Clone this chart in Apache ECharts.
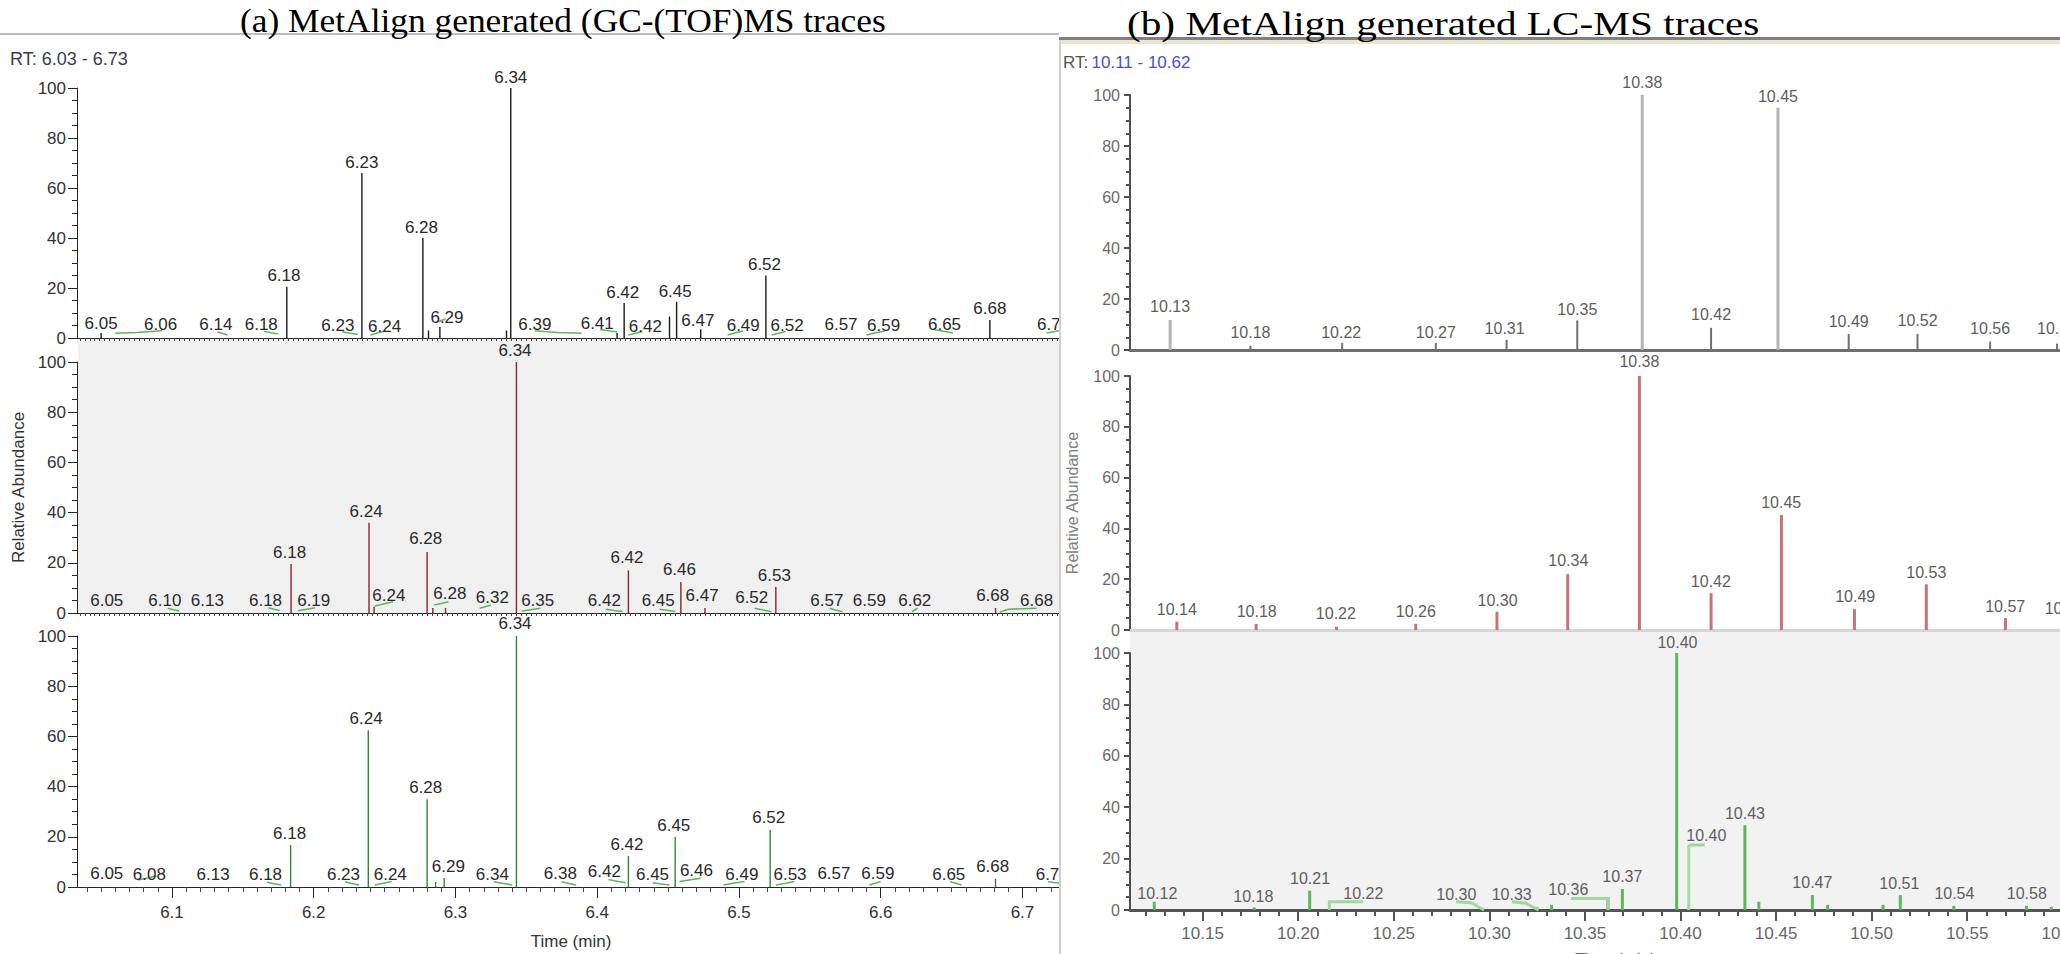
<!DOCTYPE html>
<html><head><meta charset="utf-8">
<script src="https://cdn.jsdelivr.net/npm/echarts@6/dist/echarts.min.js"></script>
<style>
html,body{margin:0;padding:0;background:#fff;width:2060px;height:954px;overflow:hidden;}
#lw{position:absolute;left:0;top:0;width:1059px;height:954px;overflow:hidden;}
#rw{position:absolute;left:1059px;top:0;width:1001px;height:954px;overflow:hidden;}
#lc{width:1100px;height:954px;}
#rc{width:1100px;height:954px;}
</style></head><body>
<div id="lw"><div id="lc"></div></div>
<div id="rw"><div id="rc"></div></div>
<script>
// ================= (a) GC-(TOF)MS traces, RT 6.03 - 6.73 =================
const gcTitle = '(a) MetAlign generated (GC-(TOF)MS traces';
const gcRange = 'RT: 6.03 - 6.73';
const gcTimeTicks = [6.1, 6.2, 6.3, 6.4, 6.5, 6.6, 6.7];
const abundanceTicks = [0, 20, 40, 60, 80, 100];

// [retention time, relative abundance]
const gcTopPeaks = [[6.050,2],[6.181,20.5],[6.234,66],[6.277,40],[6.281,3],[6.289,4.4],[6.336,3],[6.339,100],[6.414,2],[6.419,14],[6.451,8.6],[6.456,14.5],[6.473,3.5],[6.519,25],[6.677,7.2]];
const gcMidPeaks = [[6.184,19.5],[6.239,36],[6.2426,2.5],[6.280,24.3],[6.284,2],[6.293,2],[6.343,100],[6.422,17],[6.459,12.4],[6.476,2],[6.526,10.4],[6.681,2]];
const gcBotPeaks = [[6.1837,16.7],[6.2385,62.5],[6.280,35],[6.286,2],[6.292,3.6],[6.343,100],[6.422,12.4],[6.455,19.9],[6.522,22.7],[6.681,3.2]];

// [label x (time), label height, text]
const gcTopLabels = [[6.050,6,'6.05'],[6.092,5.6,'6.06'],[6.131,5.4,'6.14'],[6.163,5.4,'6.18'],[6.179,25,'6.18'],[6.217,5.2,'6.23'],[6.234,70.4,'6.23'],[6.250,4.8,'6.24'],[6.276,44.4,'6.28'],[6.294,8.4,'6.29'],[6.339,104.4,'6.34'],[6.356,5.6,'6.39'],[6.400,6,'6.41'],[6.418,18.4,'6.42'],[6.434,4.8,'6.42'],[6.455,18.8,'6.45'],[6.471,7.2,'6.47'],[6.503,5.2,'6.49'],[6.518,29.6,'6.52'],[6.534,5.2,'6.52'],[6.572,5.6,'6.57'],[6.602,5.2,'6.59'],[6.645,5.6,'6.65'],[6.677,12,'6.68'],[6.722,5.4,'6.72']];
const gcMidLabels = [[6.054,4.8,'6.05'],[6.095,4.8,'6.10'],[6.125,4.8,'6.13'],[6.166,4.8,'6.18'],[6.183,24,'6.18'],[6.200,4.8,'6.19'],[6.237,40.6,'6.24'],[6.253,7,'6.24'],[6.279,29.5,'6.28'],[6.296,7.6,'6.28'],[6.326,6,'6.32'],[6.342,104.4,'6.34'],[6.358,4.8,'6.35'],[6.405,4.8,'6.42'],[6.421,22,'6.42'],[6.443,4.8,'6.45'],[6.458,17.5,'6.46'],[6.474,7,'6.47'],[6.509,6,'6.52'],[6.525,15,'6.53'],[6.562,5,'6.57'],[6.592,5,'6.59'],[6.624,5,'6.62'],[6.679,7,'6.68'],[6.710,5,'6.68']];
const gcBotLabels = [[6.054,5.2,'6.05'],[6.084,4.8,'6.08'],[6.129,4.8,'6.13'],[6.166,4.8,'6.18'],[6.183,21.4,'6.18'],[6.221,4.8,'6.23'],[6.237,67,'6.24'],[6.254,4.8,'6.24'],[6.279,39.8,'6.28'],[6.295,8,'6.29'],[6.326,4.8,'6.34'],[6.342,104.8,'6.34'],[6.374,5.2,'6.38'],[6.405,6,'6.42'],[6.421,17,'6.42'],[6.439,4.8,'6.45'],[6.454,24.7,'6.45'],[6.470,6.4,'6.46'],[6.502,4.8,'6.49'],[6.521,27.5,'6.52'],[6.536,4.8,'6.53'],[6.567,5.2,'6.57'],[6.598,5.2,'6.59'],[6.648,4.8,'6.65'],[6.679,8,'6.68'],[6.721,4.8,'6.72']];

// integration baseline marks [t1,v1,t2,v2,t3,v3]
const gcTopMarks = [[6.060,1.9,6.075,2.2,6.093,2.9],[6.132,2.4,6.136,1.8,6.139,1.2],[6.165,2.7,6.170,2.1,6.175,1.6],[6.220,2.5,6.225,2.0,6.231,1.4],[6.240,1.2,6.245,2.0,6.251,2.9],[6.288,6.4,6.290,7.0,6.293,7.6],[6.356,2.9,6.372,2.2,6.389,1.9],[6.402,3.4,6.408,2.9,6.414,2.4],[6.422,1.2,6.427,1.9,6.432,2.6],[6.492,1.2,6.497,2.0,6.503,2.8],[6.523,1.2,6.528,1.9,6.533,2.6],[6.590,1.2,6.596,2.0,6.603,2.8],[6.638,3.3,6.645,2.6,6.651,2.0],[6.717,2.0,6.722,2.5,6.727,3.0]];
const gcMidMarks = [[6.097,1.9,6.101,1.3,6.105,0.8],[6.168,2.1,6.172,1.5,6.176,1.0],[6.189,0.9,6.195,1.5,6.201,2.1],[6.243,2.8,6.249,3.6,6.256,4.5],[6.285,3.2,6.290,3.8,6.295,4.5],[6.317,1.9,6.321,2.5,6.325,3.2],[6.347,0.8,6.353,1.3,6.360,1.9],[6.406,1.5,6.412,1.0,6.418,0.6],[6.444,1.5,6.450,1.0,6.455,0.6],[6.511,1.9,6.517,1.2,6.523,0.5],[6.564,1.9,6.568,1.2,6.573,0.5],[6.622,0.5,6.624,1.2,6.626,1.9],[6.684,0.4,6.690,1.5,6.710,1.9]];
const gcBotMarks = [[6.076,2.8,6.083,3.6,6.089,4.4],[6.167,1.9,6.172,1.3,6.177,0.8],[6.222,2.1,6.227,1.4,6.232,0.8],[6.243,0.8,6.249,1.5,6.255,2.2],[6.327,2.1,6.334,1.4,6.340,0.8],[6.375,2.1,6.380,1.4,6.385,0.8],[6.408,3.0,6.414,2.3,6.420,1.7],[6.439,1.7,6.445,1.2,6.451,0.8],[6.458,2.2,6.465,2.8,6.473,3.5],[6.489,0.8,6.496,1.5,6.504,2.2],[6.526,0.8,6.533,1.5,6.539,2.2],[6.592,0.8,6.596,1.5,6.600,2.2],[6.649,2.1,6.653,1.5,6.657,0.8],[6.718,2.1,6.722,1.8,6.727,1.5]];

// ================= (b) LC-MS traces, RT 10.11 - 10.62 =================
const lcTitle = '(b) MetAlign generated LC-MS traces';
const lcRangeLabel = 'RT:';
const lcRangeValue = '10.11 - 10.62';
const lcTimeTicks = [10.15, 10.20, 10.25, 10.30, 10.35, 10.40, 10.45, 10.50, 10.55, 10.60];

const lcTopMajorPeaks = [[10.133,11.8],[10.380,100],[10.451,95]];
const lcTopMinorPeaks = [[10.175,1.7],[10.223,2.8],[10.272,2.8],[10.309,4],[10.346,11.6],[10.416,8.7],[10.488,6.3],[10.524,6.3],[10.562,3.3],[10.597,2.5]];
const lcMidPeaks = [[10.1365,3.3],[10.178,2.4],[10.220,1.3],[10.2615,2.4],[10.304,7.2],[10.341,22],[10.3785,100],[10.416,14.5],[10.4528,45.3],[10.491,8.2],[10.5286,18],[10.570,4.7]];
const lcBotPeaks = [[10.1247,3.2],[10.177,1],[10.206,7.5],[10.325,1],[10.3325,2],[10.362,4.7],[10.3696,8.2],[10.398,100],[10.4337,33],[10.441,3.2],[10.469,5.8],[10.477,2],[10.506,2],[10.515,5.8],[10.543,1.6],[10.581,1.6],[10.594,1.2]];
const lcBotShoulder = [[10.4043,25.3]];

const lcTopLabels = [[10.380,104.8,'10.38'],[10.451,99.6,'10.45'],[10.133,17,'10.13'],[10.175,6.7,'10.18'],[10.2225,7,'10.22'],[10.272,7,'10.27'],[10.308,8.3,'10.31'],[10.346,15.9,'10.35'],[10.416,13.8,'10.42'],[10.488,11,'10.49'],[10.524,11.5,'10.52'],[10.562,8.3,'10.56'],[10.597,8.5,'10.60']];
const lcMidLabels = [[10.1365,7.9,'10.14'],[10.1783,7.2,'10.18'],[10.2197,6.6,'10.22'],[10.2615,7.2,'10.26'],[10.3043,11.5,'10.30'],[10.3413,27.2,'10.34'],[10.3785,105.6,'10.38'],[10.4159,18.9,'10.42'],[10.4527,50.1,'10.45'],[10.4914,13.1,'10.49'],[10.5286,22.7,'10.53'],[10.5699,9.2,'10.57'],[10.601,8.5,'10.61']];
const lcBotLabels = [[10.1263,6.5,'10.12'],[10.1765,5.2,'10.18'],[10.2062,12.2,'10.21'],[10.2341,6.5,'10.22'],[10.2827,6,'10.30'],[10.3117,6,'10.33'],[10.3413,7.8,'10.36'],[10.3696,13.2,'10.37'],[10.3984,104,'10.40'],[10.4135,28.8,'10.40'],[10.4337,37.6,'10.43'],[10.469,10.6,'10.47'],[10.5145,10.4,'10.51'],[10.5433,6.5,'10.54'],[10.5812,6.5,'10.58']];
const lcBotMarks = [[10.2163,0,10.2163,3.2,10.2339,3.2],[10.2827,3.2,10.2905,2.8,10.2972,0],[10.3117,3.2,10.3191,2.6,10.3258,0],[10.3427,4.5,10.3622,4.5,10.3622,0],[10.4043,25.3,10.4085,25.3,10.4128,25.3]];

// ---------------- axis scaffolding ----------------
const GC_MIN = 6.033, GC_MAX = 6.73;
const LC_MIN = 10.112, LC_MAX = 10.62;
const gcMinorTicks = [];
for (let k = 604; k <= 673; k++) if (k % 10) gcMinorTicks.push(k / 100);
const gcDenseTicks = [];
for (let k = 0; ; k++) { const t = 6.035 + k * 0.0035; if (t > GC_MAX) break; gcDenseTicks.push(+t.toFixed(4)); }
const lcMinorTicks = [];
for (let k = 1012; k <= 1062; k++) if (k % 5) lcMinorTicks.push(k / 100);

const FONT = '"Liberation Sans", Arial, sans-serif';
const SERIF = '"Liberation Serif", "Times New Roman", serif';

function stickSeries(data, xi, yi, color, width) {
  return {type: 'custom', xAxisIndex: xi, yAxisIndex: yi, data: data, clip: false, silent: true,
    renderItem: function (params, api) {
      const t = api.value(0), v = api.value(1);
      const a = api.coord([t, 0]), b = api.coord([t, v]);
      return {type: 'line', shape: {x1: a[0], y1: a[1], x2: b[0], y2: b[1]}, style: {stroke: color, lineWidth: width}};
    }};
}
function labelSeries(labels, xi, yi, size, color) {
  return {type: 'custom', xAxisIndex: xi, yAxisIndex: yi, clip: false, silent: true, z: 5,
    data: labels.map(function (l) { return [l[0], l[1]]; }),
    renderItem: function (params, api) {
      const p = api.coord([api.value(0), api.value(1)]);
      return {type: 'text', x: p[0], y: p[1],
        style: {text: labels[params.dataIndex][2], fontSize: size, fontFamily: FONT, fill: color, align: 'center', verticalAlign: 'middle'}};
    }};
}
function markSeries(marks, xi, yi, color, width) {
  return {type: 'custom', xAxisIndex: xi, yAxisIndex: yi, data: marks, clip: false, silent: true, z: 4,
    dimensions: ['x1', 'y1', 'x2', 'y2', 'x3', 'y3'], encode: {x: [0, 2, 4], y: [1, 3, 5]},
    renderItem: function (params, api) {
      const pts = [[api.value(0), api.value(1)], [api.value(2), api.value(3)], [api.value(4), api.value(5)]].map(function (q) { return api.coord(q); });
      return {type: 'polyline', shape: {points: pts}, style: {stroke: color, lineWidth: width, fill: null}};
    }};
}

// ---------------- left chart ----------------
const gcGrids = [{left: 77, width: 988, top: 88, height: 250}, {left: 77, width: 988, top: 362, height: 251}, {left: 77, width: 988, top: 636, height: 251}]
  .map(function (g) { return Object.assign({containLabel: false, outerBoundsMode: 'none'}, g); });
const gcX = [];
gcGrids.forEach(function (g, i) {
  const bottom = i === 2;
  gcX.push({type: 'value', gridIndex: i, position: 'bottom', min: GC_MIN, max: GC_MAX,
    axisLine: {show: true, onZero: false, lineStyle: {color: '#262626', width: 1}},
    axisTick: {show: bottom, customValues: gcTimeTicks, length: 11, lineStyle: {color: '#262626'}},
    axisLabel: {show: bottom, customValues: gcTimeTicks, fontSize: 17, color: '#333', fontFamily: FONT, margin: 17},
    splitLine: {show: false},
    name: bottom ? 'Time (min)' : '', nameLocation: 'middle', nameGap: 46,
    nameTextStyle: {fontSize: 17, color: '#333', fontFamily: FONT}});
  gcX.push({type: 'value', gridIndex: i, position: 'bottom', min: GC_MIN, max: GC_MAX,
    axisLine: {show: false, onZero: false},
    axisTick: {show: true, customValues: bottom ? gcMinorTicks : gcDenseTicks, length: bottom ? 5 : 3, lineStyle: {color: '#444'}},
    axisLabel: {show: false}, splitLine: {show: false}});
});
const gcY = gcGrids.map(function (g, i) {
  return {type: 'value', gridIndex: i, min: 0, max: 100, interval: 20,
    axisLine: {show: true, lineStyle: {color: '#262626', width: 1}},
    axisTick: {show: true, length: 9, lineStyle: {color: '#262626'}},
    minorTick: {show: true, splitNumber: 4, length: 5, lineStyle: {color: '#262626'}},
    axisLabel: {fontSize: 17, color: '#333', fontFamily: FONT, margin: 11},
    splitLine: {show: false}, minorSplitLine: {show: false},
    name: i === 1 ? 'Relative Abundance' : '', nameLocation: 'middle', nameGap: 44, nameRotate: 90,
    nameTextStyle: {fontSize: 17, color: '#333', fontFamily: FONT}};
});
const leftChart = echarts.init(document.getElementById('lc'), null, {renderer: 'svg'});
leftChart.setOption({
  animation: false,
  grid: gcGrids,
  xAxis: gcX,
  yAxis: gcY,
  graphic: [
    {type: 'rect', z: -10, silent: true, shape: {x: 78, y: 339, width: 1030, height: 274}, style: {fill: '#f0f0f0'}},
    {type: 'line', silent: true, shape: {x1: 0, y1: 34, x2: 1100, y2: 34}, style: {stroke: '#a9a9a9', lineWidth: 1.5}},
    {type: 'text', silent: true, x: 240, y: 21, scaleX: 1.041, style: {text: gcTitle, fontSize: 34, fontFamily: SERIF, fill: '#000', align: 'left', verticalAlign: 'middle'}},
    {type: 'text', silent: true, x: 10, y: 59, style: {text: gcRange, fontSize: 18, fontFamily: FONT, fill: '#3b3b4b', verticalAlign: 'middle'}}
  ],
  series: [
    stickSeries(gcTopPeaks, 0, 0, '#1a1a1a', 1.4),
    markSeries(gcTopMarks, 0, 0, '#5db65d', 1.6),
    labelSeries(gcTopLabels, 0, 0, 17, '#2a2a2a'),
    stickSeries(gcMidPeaks, 2, 1, '#8e2424', 1.4),
    markSeries(gcMidMarks, 2, 1, '#5db65d', 1.6),
    labelSeries(gcMidLabels, 2, 1, 17, '#2a2a2a'),
    stickSeries(gcBotPeaks, 4, 2, '#2f8a2f', 1.4),
    markSeries(gcBotMarks, 4, 2, '#5db65d', 1.6),
    labelSeries(gcBotLabels, 4, 2, 17, '#2a2a2a')
  ]
});

// ---------------- right chart ----------------
const lcGrids = [{left: 71, width: 971, top: 95, height: 255}, {left: 71, width: 971, top: 376, height: 254}, {left: 71, width: 971, top: 653, height: 257}]
  .map(function (g) { return Object.assign({containLabel: false, outerBoundsMode: 'none'}, g); });
const lcAxisColors = ['#6e6e6e', '#d6d6d6', '#555555'];
const lcX = [];
lcGrids.forEach(function (g, i) {
  const bottom = i === 2;
  lcX.push({type: 'value', gridIndex: i, position: 'bottom', min: LC_MIN, max: LC_MAX,
    axisLine: {show: true, onZero: false, lineStyle: {color: lcAxisColors[i], width: 3}},
    axisTick: {show: bottom, customValues: lcTimeTicks, length: 11, lineStyle: {color: '#555', width: 2}},
    axisLabel: {show: bottom, customValues: lcTimeTicks, fontSize: 17, color: '#666', fontFamily: FONT, margin: 15,
      formatter: function (v) { return v.toFixed(2); }},
    splitLine: {show: false},
    name: bottom ? 'Time (min)' : '', nameLocation: 'middle', nameGap: 41,
    nameTextStyle: {fontSize: 17, color: '#666', fontFamily: FONT}});
  lcX.push({type: 'value', gridIndex: i, position: 'bottom', min: LC_MIN, max: LC_MAX,
    axisLine: {show: false, onZero: false},
    axisTick: {show: bottom, customValues: lcMinorTicks, length: 6, lineStyle: {color: '#555', width: 2}},
    axisLabel: {show: false}, splitLine: {show: false}});
});
const lcY = lcGrids.map(function (g, i) {
  return {type: 'value', gridIndex: i, min: 0, max: 100, interval: 20,
    axisLine: {show: true, lineStyle: {color: '#505050', width: 2}},
    axisTick: {show: true, length: 6, lineStyle: {color: '#505050', width: 2}},
    minorTick: {show: true, splitNumber: 4, length: 4, lineStyle: {color: '#505050', width: 2}},
    axisLabel: {fontSize: 16, color: '#6a6a6a', fontFamily: FONT, margin: 10},
    splitLine: {show: false}, minorSplitLine: {show: false},
    name: i === 1 ? 'Relative Abundance' : '', nameLocation: 'middle', nameGap: 50, nameRotate: 90,
    nameTextStyle: {fontSize: 16, color: '#808080', fontFamily: FONT}};
});
const rightChart = echarts.init(document.getElementById('rc'), null, {renderer: 'svg'});
rightChart.setOption({
  animation: false,
  grid: lcGrids,
  xAxis: lcX,
  yAxis: lcY,
  graphic: [
    {type: 'rect', z: -10, silent: true, shape: {x: 71, y: 631, width: 1100, height: 279}, style: {fill: '#f2f2f2'}},
    {type: 'rect', silent: true, shape: {x: 0, y: 37, width: 1100, height: 3}, style: {fill: '#7f7f7f'}},
    {type: 'rect', silent: true, shape: {x: 0, y: 40, width: 1100, height: 4}, style: {fill: '#e8e5d2'}},
    {type: 'rect', silent: true, shape: {x: 0, y: 40, width: 2, height: 914}, style: {fill: '#d0d0d0'}},
    {type: 'text', silent: true, x: 68, y: 23, scaleX: 1.214, style: {text: lcTitle, fontSize: 34, fontFamily: SERIF, fill: '#000', align: 'left', verticalAlign: 'middle'}},
    {type: 'text', silent: true, x: 4, y: 62, style: {text: '{a|' + lcRangeLabel + '} {b|' + lcRangeValue + '}', verticalAlign: 'middle',
      rich: {a: {fill: '#555', fontSize: 17, fontFamily: FONT}, b: {fill: '#4d4dcc', fontSize: 17, fontFamily: FONT}}}}
  ],
  series: [
    stickSeries(lcTopMajorPeaks, 0, 0, '#b4b4b4', 3),
    stickSeries(lcTopMinorPeaks, 0, 0, '#707070', 2),
    labelSeries(lcTopLabels, 0, 0, 16, '#5e5e5e'),
    stickSeries(lcMidPeaks, 2, 1, '#c47474', 3),
    labelSeries(lcMidLabels, 2, 1, 16, '#5e5e5e'),
    stickSeries(lcBotPeaks, 4, 2, '#5cb85c', 3),
    stickSeries(lcBotShoulder, 4, 2, '#a6dba6', 3),
    markSeries(lcBotMarks, 4, 2, '#9fd89f', 3),
    labelSeries(lcBotLabels, 4, 2, 16, '#5e5e5e')
  ]
});
</script>
</body></html>
